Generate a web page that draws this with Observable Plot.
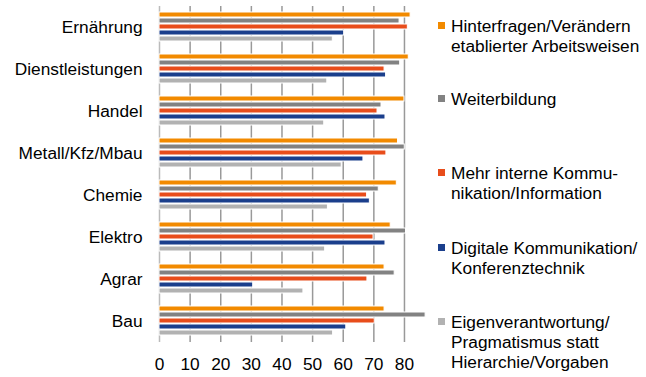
<!DOCTYPE html>
<html>
<head>
<meta charset="utf-8">
<script src="https://cdn.jsdelivr.net/npm/d3@7"></script>
<script src="https://cdn.jsdelivr.net/npm/@observablehq/plot@0.6"></script>
<style>
  html, body { margin: 0; padding: 0; background: #fff; }
  #wrap { position: relative; width: 646px; height: 377px; font-family: 'Liberation Sans', Arial, sans-serif; }
  #chart { position: absolute; left: 0; top: 0; }
  .leg { position: absolute; left: 438px; font-size: 17.3px; line-height: 20px; color: #000; }
  .leg .sw { position: absolute; left: 0; width: 7px; height: 7px; top: 6px; }
  .leg .tx { position: absolute; left: 13px; white-space: nowrap; }
</style>
</head>
<body>
<div id="wrap"><div id="chart"></div></div>
<script>
const categories = ["Ernährung", "Dienstleistungen", "Handel", "Metall/Kfz/Mbau", "Chemie", "Elektro", "Agrar", "Bau"];
const seriesNames = [
  "Hinterfragen/Verändern etablierter Arbeitsweisen",
  "Weiterbildung",
  "Mehr interne Kommunikation/Information",
  "Digitale Kommunikation/Konferenztechnik",
  "Eigenverantwortung/Pragmatismus statt Hierarchie/Vorgaben"
];
const legendLines = [
  ["Hinterfragen/Verändern", "etablierter Arbeitsweisen"],
  ["Weiterbildung"],
  ["Mehr interne Kommu-", "nikation/Information"],
  ["Digitale Kommunikation/", "Konferenztechnik"],
  ["Eigenverantwortung/", "Pragmatismus statt", "Hierarchie/Vorgaben"]
];
const seriesColors = ["#F28A00", "#828282", "#E84D1B", "#1B3F8C", "#B2B2B2"];
const hinterfragen = [82.0, 81.4, 80.0, 77.9, 77.5, 75.5, 73.5, 73.5];
const weiterbildung = [78.4, 78.6, 72.5, 80.1, 71.6, 80.5, 76.8, 86.9];
const kommunikation = [81.1, 73.5, 71.2, 74.1, 67.8, 69.9, 67.9, 70.3];
const digital = [60.3, 74.0, 73.8, 66.6, 68.7, 73.8, 30.6, 61.0];
const eigenverantwortung = [56.6, 54.8, 53.8, 59.5, 55.0, 54.1, 47.0, 56.7];
const xTicks = [0, 10, 20, 30, 40, 50, 60, 70, 80];

const seriesValues = [hinterfragen, weiterbildung, kommunikation, digital, eigenverantwortung];
const rows = [];
categories.forEach((c, i) => {
  seriesNames.forEach((s, j) => rows.push({category: c, series: s, value: seriesValues[j][i]}));
});

const plot = Plot.plot({
  width: 430,
  height: 377,
  marginLeft: 159,
  marginRight: 4.6,
  marginTop: 5,
  marginBottom: 34,
  style: {fontFamily: "'Liberation Sans', Arial, sans-serif", fontSize: "17.3px", color: "#000", background: "white"},
  facet: {data: rows, y: "category"},
  fy: {domain: categories, padding: 0, axis: "left", label: null, tickSize: 0, tickPadding: 17},
  y: {domain: seriesNames, axis: null, paddingInner: 0.1, paddingOuter: 1.05},
  x: {domain: [0, 87], ticks: xTicks, tickSize: 0, tickPadding: 15, label: null},
  color: {domain: seriesNames, range: seriesColors},
  marks: [
    Plot.ruleX(xTicks.slice(1), {stroke: "#999", strokeWidth: 1.5}),
    Plot.ruleX([0], {stroke: "#bbb", strokeWidth: 1.5}),
    Plot.barX(rows, {x: "value", y: "series", fill: "series", stroke: "white", strokeWidth: 1})
  ]
});
document.getElementById("chart").appendChild(plot);

const legendTops = [16, 89, 163, 238, 312];
const wrap = document.getElementById("wrap");
legendLines.forEach((lines, i) => {
  const d = document.createElement("div");
  d.className = "leg";
  d.style.top = legendTops[i] + "px";
  const sw = document.createElement("div");
  sw.className = "sw";
  sw.style.background = seriesColors[i];
  d.appendChild(sw);
  const tx = document.createElement("div");
  tx.className = "tx";
  tx.innerHTML = lines.join("<br>");
  d.appendChild(tx);
  wrap.appendChild(d);
});
</script>
</body>
</html>
